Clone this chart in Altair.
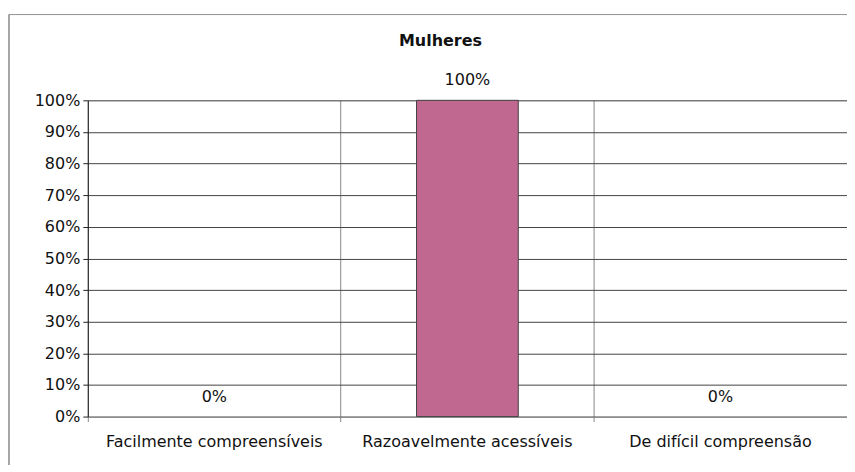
import altair as alt
import pandas as pd

categories = ["Facilmente compreensíveis", "Razoavelmente acessíveis", "De difícil compreensão"]
values = [0.0, 1.0, 0.0]
labels = ["0%", "100%", "0%"]
y_ticks = [0.0, 0.1, 0.2, 0.3, 0.4, 0.5, 0.6, 0.7, 0.8, 0.9, 1.0]

df = pd.DataFrame({"cat": categories, "val": values, "lab": labels})

FONT = "DejaVu Sans"
FS = 16

x = alt.X("cat:N", sort=categories, title=None,
          scale=alt.Scale(paddingInner=0, paddingOuter=0),
          axis=alt.Axis(labelAngle=0, labelFontSize=FS, labelFont=FONT, labelColor="#111",
                        labelLimit=0,
                        grid=True, gridColor="#888", gridWidth=1, bandPosition=0,
                        ticks=True, tickSize=5, tickColor="#888", domain=False,
                        labelPadding=12))
y = alt.Y("val:Q", title=None,
          scale=alt.Scale(domain=[0, 1]),
          axis=alt.Axis(format=".0%", values=y_ticks, labelOverlap=False, tickCount=11,
                        labelFontSize=FS, labelFont=FONT, labelColor="#111",
                        grid=True, gridColor="#444", gridWidth=1,
                        domain=True, domainColor="#222", tickColor="#222", tickSize=5,
                        labelPadding=3))

bars = alt.Chart(df).transform_filter("datum.val > 0").mark_bar(
    size=102, color="#C0688F", stroke="#444", strokeWidth=1).encode(x=x, y=y)
text = alt.Chart(df).mark_text(dy=-20, fontSize=FS, font=FONT, color="#111").encode(
    x=x, y=y, text="lab:N")

frame_top = alt.Chart(df).mark_rule(color="#999", strokeWidth=1).encode(
    x=alt.value(-79), x2=alt.value(767), y=alt.value(-86))
frame_left = alt.Chart(df).mark_rule(color="#999", strokeWidth=1).encode(
    x=alt.value(-79), y=alt.value(-86), y2=alt.value(380))

chart = (frame_top + frame_left + bars + text).properties(
    width=761, height=317,
    title=alt.TitleParams("Mulheres", fontSize=16, font=FONT, fontWeight="bold", color="#111",
                          anchor="middle", offset=0, dx=-27, dy=35),
    autosize=alt.AutoSizeParams(type="none"),
    padding={"left": 80, "top": 92, "right": 0, "bottom": 48},
).configure_view(stroke="#888", strokeWidth=1).configure(background="white")

chart.save("out.html", embed_options={"renderer": "svg", "actions": False})
